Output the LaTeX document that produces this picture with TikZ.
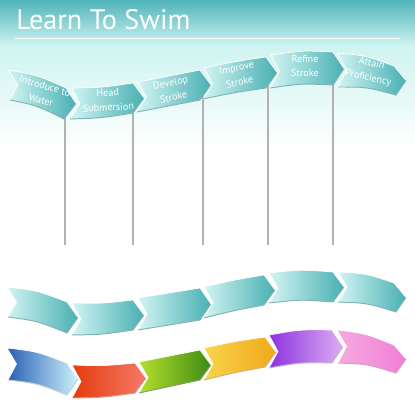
\documentclass[tikz,border=0pt]{standalone}
\usepackage{fontspec}
\setmainfont{PT Sans}
\usetikzlibrary{calc}

\definecolor{skytop}{HTML}{50B4BB}
\definecolor{skymid}{HTML}{CFF4F1}
\definecolor{tealL}{HTML}{D2F5F3}
\definecolor{tealR}{HTML}{48AFB2}
\definecolor{wireg}{HTML}{B2B2B2}
\definecolor{blueL}{HTML}{2A5FB5}
\definecolor{blueR}{HTML}{CDF3FB}
\definecolor{redL}{HTML}{E43C0C}
\definecolor{redR}{HTML}{F57A68}
\definecolor{greenL}{HTML}{B5DE2C}
\definecolor{greenR}{HTML}{3E8B14}
\definecolor{yellowL}{HTML}{F8D44A}
\definecolor{yellowR}{HTML}{F2A81C}
\definecolor{purpleL}{HTML}{8C32E0}
\definecolor{purpleR}{HTML}{DDAEF2}
\definecolor{pinkL}{HTML}{F6AADF}
\definecolor{pinkR}{HTML}{F17ED5}

% chevron: top left, top right, bottom right, bottom left, bulge, left colour, right colour
\newcommand{\chev}[7]{%
  \shadedraw[left color=#6,right color=#7,draw=white,line width=0.5pt]
    (#1) .. controls ($(#1)!0.5!(#2)+(0,#5)$) .. (#2)
    -- ($(#2)!0.5!(#3)+(11,0)$) -- (#3)
    .. controls ($(#3)!0.5!(#4)+(0,#5)$) .. (#4)
    -- ($(#4)!0.5!(#1)+(9,0)$) -- cycle;
  \draw[#7!75!black,line width=0.7pt,opacity=0.6]
    ($(#2)!0.5!(#3)+(11,0)$) -- (#3)
    .. controls ($(#3)!0.5!(#4)+(0,#5)$) .. (#4);}

\tikzset{
  steplabel/.style={text=white,font=\fontsize{7.2}{10.5}\selectfont,align=center,inner sep=0pt},
  wire/.style={wireg,line width=0.8pt}
}

\begin{document}
\begin{tikzpicture}[x=0.025cm,y=-0.025cm]
\useasboundingbox (0,0) rectangle (415,400);

% background
\fill[white] (0,0) rectangle (415,400);
\shade[top color=skytop,bottom color=skymid] (0,0) rectangle (415,46);
\shade[top color=skymid,bottom color=white] (0,46) rectangle (415,150);
\node[text=white,font=\fontsize{20}{24}\selectfont,anchor=base west,inner sep=0pt] (title) at (16,30) {Learn To Swim};
\draw[white,line width=0.4pt] (15,38) -- (400,38);

% hanging wires
\coordinate (w1a) at (65,110); \coordinate (w1b) at (65,245);
\coordinate (w2a) at (133,105); \coordinate (w2b) at (133,245);
\coordinate (w3a) at (203,95); \coordinate (w3b) at (203,245);
\coordinate (w4a) at (268,80); \coordinate (w4b) at (268,245);
\coordinate (w5a) at (333,78); \coordinate (w5b) at (333,245);
\draw[wire] (w1a) -- (w1b);
\draw[wire] (w2a) -- (w2b);
\draw[wire] (w3a) -- (w3b);
\draw[wire] (w4a) -- (w4b);
\draw[wire] (w5a) -- (w5b);

% top band
\chev{8,70}{66,88}{64,119}{10,100}{-4}{tealL}{tealR}
\chev{72,88}{133,83}{133,113}{70,119}{2}{tealL}{tealR}
\chev{138,82}{200,70}{200,100}{137,112}{0}{tealL}{tealR}
\chev{204,68}{266,57}{266,88}{203,99}{-1}{tealL}{tealR}
\chev{271,55}{333,52}{333,85}{270,88}{-3}{tealL}{tealR}
\chev{337,53}{394,66}{396,95}{338,87}{-4}{tealL}{tealR}

\node[steplabel,rotate=-16] (intro) at (43,93) {Introduce to\\Water};
\node[steplabel,rotate=3] (head) at (108,100) {Head\\Submersion};
\node[steplabel,rotate=12] (develop) at (172,90) {Develop\\Stroke};
\node[steplabel,rotate=12] (improve) at (238,75) {Improve\\Stroke};
\node[steplabel] (refine) at (305,66) {Refine\\Stroke};
\node[steplabel,rotate=-13] (attain) at (370,71) {Attain\\Proficiency};

% middle band
\chev{7,287}{67,302}{67,333}{8,317}{-4}{tealL}{tealR}
\chev{72,303}{133,300}{133,330}{72,335}{2}{tealL}{tealR}
\chev{138,298}{200,288}{200,320}{138,330}{0}{tealL}{tealR}
\chev{204,287}{264,275}{264,305}{204,318}{-1}{tealL}{tealR}
\chev{269,273}{333,272}{333,302}{269,303}{-3}{tealL}{tealR}
\chev{338,272}{394,283}{396,312}{338,302}{-4}{tealL}{tealR}

% coloured band
\chev{7,348}{67,363}{67,395}{8,380}{-4}{blueL}{blueR}
\chev{72,365}{135,363}{135,393}{72,398}{2}{redL}{redR}
\chev{139,362}{200,350}{200,380}{139,393}{0}{greenL}{greenR}
\chev{204,348}{265,337}{265,367}{204,380}{-1}{yellowL}{yellowR}
\chev{269,335}{332,330}{332,363}{269,368}{-3}{purpleL}{purpleR}
\chev{337,330}{394,345}{396,373}{338,363}{-4}{pinkL}{pinkR}
\end{tikzpicture}
\end{document}
